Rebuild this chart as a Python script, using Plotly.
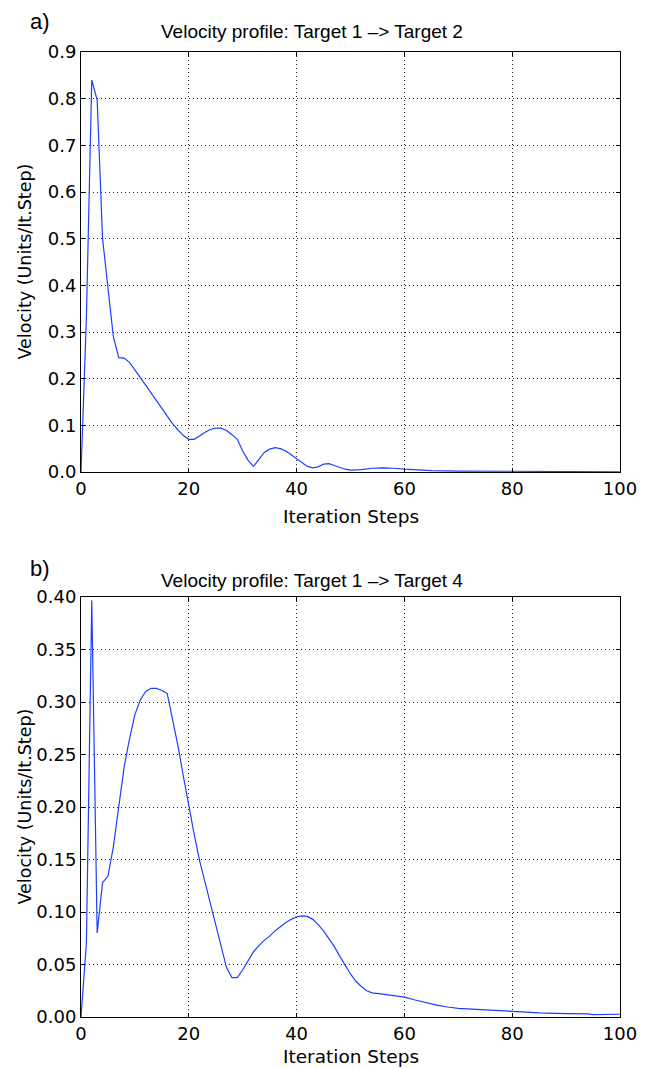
import plotly.graph_objects as go

# ---- data ----
steps_a = [0, 1, 2, 3, 4, 5, 6, 7, 8, 9, 10, 12, 14, 16, 17, 18, 19, 20, 21, 22, 23, 24, 25, 26,
           27, 28, 29, 30, 31, 32, 33, 34, 35, 36, 37, 38, 39, 40, 41, 42, 43, 44, 45, 46, 47,
           48, 49, 50, 52, 54, 56, 58, 60, 65, 70, 80, 90, 100]
vel_a = [0.0, 0.33, 0.84, 0.797, 0.50, 0.39, 0.29, 0.245, 0.244, 0.235, 0.218, 0.186, 0.153,
         0.12, 0.103, 0.09, 0.078, 0.070, 0.070, 0.077, 0.085, 0.091, 0.094, 0.094, 0.089,
         0.080, 0.070, 0.045, 0.025, 0.012, 0.028, 0.042, 0.049, 0.052, 0.050, 0.045, 0.037,
         0.028, 0.020, 0.012, 0.009, 0.011, 0.017, 0.018, 0.014, 0.010, 0.006, 0.004, 0.005,
         0.008, 0.009, 0.008, 0.006, 0.003, 0.002, 0.0016, 0.001, 0.0005]

steps_b = [0, 1, 2, 3, 4, 5, 6, 7, 8, 9, 10, 11, 12, 13, 14, 15, 16, 17, 18, 19, 20, 21, 22,
           23, 24, 25, 26, 27, 28, 29, 30, 31, 32, 33, 34, 35, 36, 37, 38, 39, 40, 41, 42, 43,
           44, 45, 46, 47, 48, 49, 50, 51, 52, 53, 54, 56, 58, 60, 62, 64, 66, 68, 70, 75, 80,
           85, 90, 94, 95, 97, 100]
vel_b = [0.0, 0.07, 0.397, 0.08, 0.128, 0.134, 0.162, 0.20, 0.238, 0.265, 0.288, 0.302, 0.31,
         0.313, 0.313, 0.311, 0.308, 0.283, 0.258, 0.229, 0.20, 0.174, 0.149, 0.128, 0.107,
         0.087, 0.066, 0.047, 0.0375, 0.0375, 0.045, 0.054, 0.062, 0.068, 0.073, 0.077, 0.082,
         0.086, 0.09, 0.093, 0.0955, 0.0963, 0.0958, 0.093, 0.088, 0.082, 0.075, 0.067, 0.058,
         0.049, 0.041, 0.034, 0.029, 0.025, 0.023, 0.0218, 0.0206, 0.019, 0.0162, 0.0135,
         0.0113, 0.0095, 0.0083, 0.0068, 0.0052, 0.004, 0.0032, 0.003, 0.0022, 0.0022, 0.0026]

x_ticks = [0, 20, 40, 60, 80, 100]
y_ticks_a = [0.0, 0.1, 0.2, 0.3, 0.4, 0.5, 0.6, 0.7, 0.8, 0.9]
y_ticks_b = [0.0, 0.05, 0.10, 0.15, 0.20, 0.25, 0.30, 0.35, 0.40]

title_a = "Velocity profile: Target 1 \u2013> Target 2"
title_b = "Velocity profile: Target 1 \u2013> Target 4"
x_label = "Iteration Steps"
y_label = "Velocity (Units/It.Step)"

# ---- layout geometry (pixels) ----
W, H = 649, 1068
L, R, T, B = 81, 24, 52, 51
PW, PH = W - L - R, H - T - B


def px(xp):
    return (xp - L) / PW


def py(yp):
    return (H - B - yp) / PH


LINE = "#1f3fff"
TICKFONT = dict(family="DejaVu Sans", size=18, color="black")

fig = go.Figure()
fig.add_trace(go.Scatter(x=steps_a, y=vel_a, mode="lines",
                         line=dict(color=LINE, width=1.2), xaxis="x", yaxis="y",
                         showlegend=False))
fig.add_trace(go.Scatter(x=steps_b, y=vel_b, mode="lines",
                         line=dict(color=LINE, width=1.2), xaxis="x2", yaxis="y2",
                         showlegend=False))

axis_common = dict(showline=True, linecolor="black", linewidth=1, mirror="ticks",
                   ticks="inside", ticklen=4, tickcolor="black", tickwidth=1,
                   showgrid=True, gridcolor="#222222", gridwidth=1, griddash="1px,3px",
                   zeroline=False, tickfont=TICKFONT)

top_dom = [py(472), 1.0]
bot_dom = [0.0, py(597)]

fig.update_layout(
    width=W, height=H,
    margin=dict(l=L, r=R, t=T, b=B),
    paper_bgcolor="white", plot_bgcolor="white",
    xaxis=dict(domain=[0, 1], range=[0, 100], tickvals=x_ticks, anchor="y", **axis_common),
    yaxis=dict(domain=top_dom, range=[0, 0.9], tickvals=y_ticks_a, tickformat=".1f",
               anchor="x", **axis_common),
    xaxis2=dict(domain=[0, 1], range=[0, 100], tickvals=x_ticks, anchor="y2", **axis_common),
    yaxis2=dict(domain=bot_dom, range=[0, 0.4], tickvals=y_ticks_b, tickformat=".2f",
                anchor="x2", **axis_common),
)

ann = []
lab_font = dict(family="DejaVu Sans", size=18.5, color="black")
ylab_font = dict(family="DejaVu Sans", size=17.5, color="black")
tit_font = dict(family="Liberation Sans", size=19, color="black")
pan_font = dict(family="Liberation Sans", size=22, color="black")
# panel letters
ann.append(dict(text="a)", x=px(28), y=py(21.5), xref="paper", yref="paper",
                xanchor="left", yanchor="middle", showarrow=False, font=pan_font))
ann.append(dict(text="b)", x=px(28), y=py(568), xref="paper", yref="paper",
                xanchor="left", yanchor="middle", showarrow=False, font=pan_font))
# titles
ann.append(dict(text=title_a, x=px(314), y=py(31), xref="paper", yref="paper",
                xanchor="center", yanchor="middle", showarrow=False, font=tit_font))
ann.append(dict(text=title_b, x=px(314), y=py(580), xref="paper", yref="paper",
                xanchor="center", yanchor="middle", showarrow=False, font=tit_font))
# x labels
ann.append(dict(text=x_label, x=px(353), y=py(516), xref="paper", yref="paper",
                xanchor="center", yanchor="middle", showarrow=False, font=lab_font))
ann.append(dict(text=x_label, x=px(353), y=py(1056), xref="paper", yref="paper",
                xanchor="center", yanchor="middle", showarrow=False, font=lab_font))
# y labels
ann.append(dict(text=y_label, x=px(24), y=py(262), xref="paper", yref="paper",
                xanchor="center", yanchor="middle", textangle=-90, showarrow=False,
                font=ylab_font))
ann.append(dict(text=y_label, x=px(24), y=py(807), xref="paper", yref="paper",
                xanchor="center", yanchor="middle", textangle=-90, showarrow=False,
                font=ylab_font))
fig.update_layout(annotations=ann)

fig.write_html("out.html")
